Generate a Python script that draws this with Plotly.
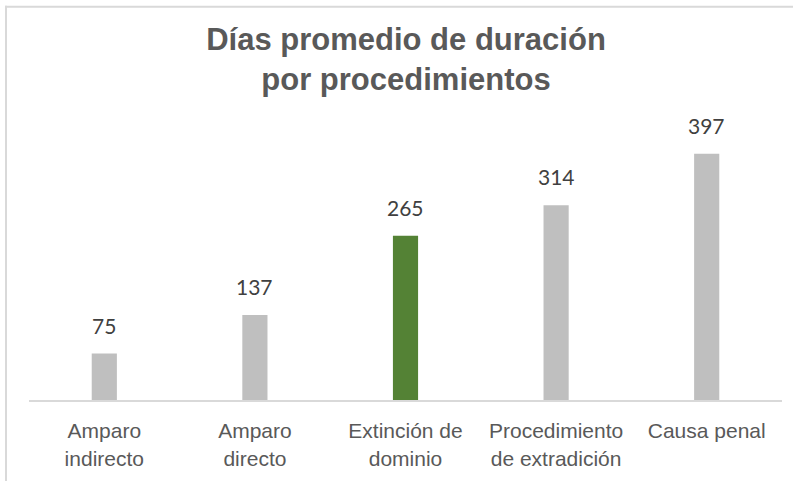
import plotly.graph_objects as go

categories = ["Amparo indirecto", "Amparo directo", "Extinción de dominio",
              "Procedimiento de extradición", "Causa penal"]
tick_labels = ["Amparo<br>indirecto", "Amparo<br>directo", "Extinción de<br>dominio",
               "Procedimiento<br>de extradición", "Causa penal"]
values = [75, 137, 265, 314, 397]
colors = ["#bfbfbf", "#bfbfbf", "#548235", "#bfbfbf", "#bfbfbf"]
title_text = "Días promedio de duración<br>por procedimientos"

W, H = 793, 481
L, R, T, B = 29, 11, 121, 79
pw, ph = W - L - R, H - T - B

def px_x(p):
    return (p - L) / pw

def px_y(p):
    return (H - B - p) / ph

fig = go.Figure()
fig.add_trace(go.Bar(
    x=categories, y=values, marker=dict(color=colors, line=dict(width=0)),
    hoverinfo="skip", showlegend=False,
))

for c, v in zip(categories, values):
    fig.add_annotation(x=c, y=v, text=str(v), showarrow=False,
                       yanchor="bottom", yshift=14,
                       font=dict(family="Lato, Open Sans, sans-serif", size=21, color="#404040"))

border = dict(color="#d9d9d9", width=2)
fig.add_shape(type="line", xref="paper", yref="paper",
              x0=px_x(5), x1=px_x(800), y0=px_y(6), y1=px_y(6), line=border)
fig.add_shape(type="line", xref="paper", yref="paper",
              x0=px_x(6), x1=px_x(6), y0=px_y(5), y1=px_y(490), line=border)

fig.update_layout(
    width=W, height=H,
    margin=dict(l=L, r=R, t=T, b=B),
    paper_bgcolor="white", plot_bgcolor="white",
    bargap=0.833,
    title=dict(text="<b>" + title_text + "</b>",
               x=px_x(406), xref="paper", xanchor="center",
               y=1 - 50 / H, yref="container", yanchor="middle",
               font=dict(family="Liberation Sans, Arial, sans-serif", size=31, color="#595959")),
    xaxis=dict(tickvals=categories, ticktext=tick_labels, showline=True,
               linecolor="#d9d9d9", linewidth=2, ticks="", showgrid=False,
               ticklabelstandoff=11,
               tickfont=dict(family="Liberation Sans, Arial, sans-serif", size=21, color="#595959")),
    yaxis=dict(range=[0, 450], visible=False, showgrid=False, zeroline=False),
)

fig.write_html("out.html", config={"displayModeBar": False},
               post_script="document.body.style.margin='0';")
